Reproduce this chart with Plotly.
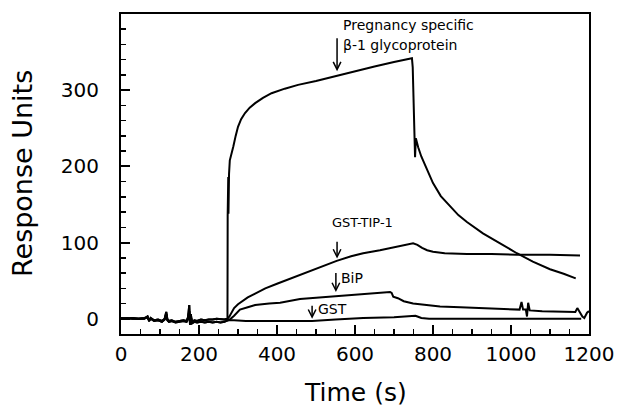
import plotly.graph_objects as go

# ---- data ----
baseline_t = [0, 15, 30, 45, 60, 68, 72, 76, 85, 95, 105, 112, 116, 119, 123, 130, 140, 150, 160, 168,
              172, 175, 177, 179, 182, 188, 195, 205, 215, 225, 235, 245, 255, 265, 272]
baseline_a = [1, 0, 1, 0, 0, 3, -3, 1, -2, -1, -3, 0, 9, -1, -3, -2, -4, -3, -2, -3,
              2, 18, -8, 6, -5, -2, -3, -1, -2, -1, -1, 0, -1, -1, 0]
baseline_b = [0, 1, 0, 0, 1, 2, -2, 0, -3, -2, -4, -1, 6, -2, -4, -3, -5, -4, -3, -4,
              0, 10, -6, 3, -6, -4, -5, -4, -5, -4, -5, -4, -5, -4, -3]

psg_t = [273, 273.5, 274, 274.5, 275, 275.5, 276, 277, 279, 283, 288, 294, 300, 308, 318, 330, 344, 364,
         386, 420, 454, 500, 553, 600, 650, 700, 746, 748, 751, 754, 756, 762, 770, 779, 790, 800, 820,
         844, 865, 887, 928, 972, 1015, 1056, 1100, 1135, 1166]
psg_v = [0, 135, 185, 140, 186, 138, 188, 190, 208, 218, 226, 240, 252, 262, 270, 277, 283, 290,
         296, 302, 307, 312, 319, 325, 331, 337, 342, 330, 260, 212, 237, 225, 213, 202, 189, 178, 161,
         147, 136, 127, 112, 99, 86, 75, 65, 59, 53]

tip_t = [273, 278, 283, 290, 300, 310, 325, 344, 370, 400, 440, 477, 515, 553, 590, 621, 664, 700, 730,
         749, 760, 772, 785, 800, 830, 887, 950, 1015, 1100, 1177]
tip_v = [0, 3, 8, 14, 19, 23, 28, 33, 40, 46, 54, 61, 68, 76, 82, 86, 90, 94, 97,
         99, 97, 93, 90, 88, 86, 85, 85, 84, 84, 83]

bip_t = [273, 279, 290, 305, 325, 344, 380, 408, 459, 510, 553, 600, 650, 690, 694, 698, 710, 725, 749,
         780, 818, 870, 921, 970, 1022, 1027, 1031, 1038, 1041, 1044, 1048, 1080, 1133, 1165, 1170,
         1176, 1183, 1188, 1195, 1200]
bip_v = [-2, -1, 4, 12, 15, 18, 20, 21, 26, 28, 30, 32, 33, 35, 34, 29, 27, 23, 20,
         18, 16, 15, 14, 13, 12, 22, 12, 12, 3, 21, 11, 10, 9, 9, 14,
         9, 3, 1, 8, 10]

gst_t = [273, 290, 320, 360, 400, 450, 490, 550, 621, 700, 745, 755, 760, 770, 790, 850, 950, 1050, 1180]
gst_v = [-2, -2, -3, -3, -3, -3, -3, -1, 1, 2, 3, 4, 3, 1, 0, 0, 0, 0, 0]

x_ticks = [0, 200, 400, 600, 800, 1000, 1200]
y_ticks = [0, 100, 200, 300]

FONT = "DejaVu Sans"

fig = go.Figure()
series = [
    (baseline_t + psg_t, baseline_a + psg_v),
    (baseline_t + tip_t, baseline_a + tip_v),
    (baseline_t + bip_t, baseline_b + bip_v),
    (baseline_t + gst_t, baseline_b + gst_v),
]
for xs, ys in series:
    fig.add_trace(go.Scatter(x=xs, y=ys, mode="lines",
                             line=dict(color="black", width=2), showlegend=False,
                             hoverinfo="skip"))

# arrows (tip -> tail in data coords)
arrows = [(554, 325, 370), (554, 79, 103), (551, 35, 62), (490, 0, 19)]
for xt, yt, ytail in arrows:
    fig.add_annotation(x=xt, y=yt, ax=xt, ay=ytail, axref="x", ayref="y", xref="x", yref="y",
                       text="", showarrow=True, arrowhead=5, arrowsize=1, arrowwidth=1.5,
                       arrowcolor="black")

labels = [
    ("Pregnancy specific", 563, 386, 14),
    ("\u03b2-1 glycoprotein", 563, 359, 14),
    ("GST-TIP-1", 537, 126, 13),
    ("BiP", 560, 54, 14),
    ("GST", 499, 13, 14),
]
for txt, x, y, sz in labels:
    fig.add_annotation(x=x, y=y, xref="x", yref="y", text=txt, showarrow=False,
                       xanchor="left", yanchor="middle",
                       font=dict(family=FONT, size=sz, color="black"))

# axis titles
fig.add_annotation(x=-0.2115, y=0.5, xref="paper", yref="paper", text="Response Units",
                   textangle=-90, showarrow=False, xanchor="center", yanchor="middle",
                   font=dict(family=FONT, size=27, color="black"))
fig.add_annotation(x=0.5, y=-0.184, xref="paper", yref="paper", text="Time (s)",
                   showarrow=False, xanchor="center", yanchor="middle",
                   font=dict(family=FONT, size=25, color="black"))

fig.update_xaxes(range=[0, 1200], tickvals=x_ticks, ticktext=[str(v) for v in x_ticks],
                 ticks="inside", ticklen=9, tickwidth=2, tickcolor="black",
                 showline=True, linewidth=2, linecolor="black", mirror=True,
                 showgrid=False, zeroline=False, ticklabelstandoff=1, automargin=False,
                 tickfont=dict(family=FONT, size=20, color="black"),
                 minor=dict(dtick=50, tick0=0, ticks="inside", ticklen=5, tickwidth=1.5,
                            tickcolor="black", showgrid=False))
fig.update_yaxes(range=[-20, 400], tickvals=y_ticks, ticktext=[str(v) for v in y_ticks],
                 ticks="inside", ticklen=9, tickwidth=2, tickcolor="black",
                 showline=True, linewidth=2, linecolor="black", mirror=True,
                 showgrid=False, zeroline=False, ticklabelstandoff=16, automargin=False,
                 tickfont=dict(family=FONT, size=20, color="black"),
                 minor=dict(dtick=20, tick0=0, ticks="inside", ticklen=5, tickwidth=1.5,
                            tickcolor="black", showgrid=False))

fig.update_layout(width=621, height=411, margin=dict(l=121, r=32, t=14, b=77),
                  paper_bgcolor="white", plot_bgcolor="white",
                  font=dict(family=FONT, color="black"))

fig.write_html("out.html", config={"displayModeBar": False, "staticPlot": True},
               post_script="document.body.style.margin='0';document.body.style.padding='0';")
